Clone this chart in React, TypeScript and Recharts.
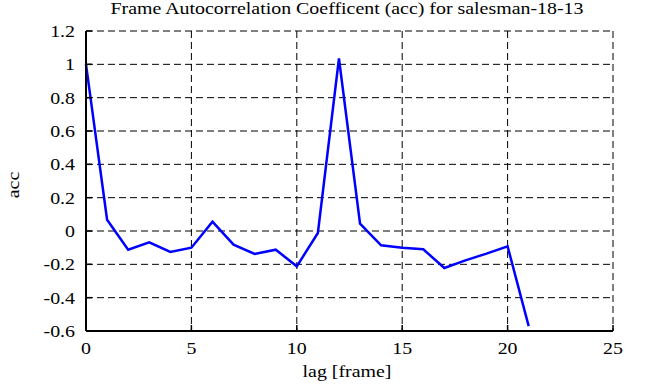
import { LineChart, Line, XAxis, YAxis, CartesianGrid } from "recharts";

const lags = [0, 1, 2, 3, 4, 5, 6, 7, 8, 9, 10, 11, 12, 13, 14, 15, 16, 17, 18, 19, 20, 21];
const acc = [
    1.0, 0.068, -0.112, -0.068, -0.126, -0.1, 0.056, -0.082, -0.138, -0.112, -0.212,
    -0.012, 1.035, 0.044, -0.086, -0.1, -0.11, -0.222, -0.176, -0.136, -0.092, -0.571,
];
const xTicks = [0, 5, 10, 15, 20, 25];
const yTicks = [-0.6, -0.4, -0.2, 0, 0.2, 0.4, 0.6, 0.8, 1, 1.2];

const data = lags.map((lag, i) => ({ lag, acc: acc[i] }));

const font = "Liberation Serif, Times New Roman, serif";
const stretch = 1.17;

const XTick = (props: any) => {
    const { x, y, payload } = props;
    return (
        <text
            transform={`translate(${x},${y}) scale(${stretch},1)`}
            textAnchor="middle" dy="0.71em" fontFamily={font} fontSize={17} fill="#000"
        >
            {payload.value}
        </text>
    );
};

const YTick = (props: any) => {
    const { x, y, payload } = props;
    return (
        <text
            transform={`translate(${x},${y}) scale(${stretch},1)`}
            textAnchor="end" dy="0.35em" fontFamily={font} fontSize={17} fill="#000"
        >
            {String(Math.round(payload.value * 10) / 10)}
        </text>
    );
};

const textStyle = { fontFamily: font, fontSize: 17, lineHeight: "22px", color: "#000" };

export default function App() {
    return (
        <div style={{ position: "absolute", left: 0, top: 0, width: 646, height: 387, background: "#fff" }}>
            {/* Title */}
            <div
                style={{
                    ...textStyle, position: "absolute", top: -2, left: 0, width: 694, textAlign: "center",
                    transform: `scaleX(${stretch})`, transformOrigin: "347px 0", whiteSpace: "nowrap",
                }}
            >
                Frame Autocorrelation Coefficent (acc) for salesman-18-13
            </div>

            {/* y label */}
            <div
                style={{
                    ...textStyle, position: "absolute", left: 14, top: 185,
                    transform: `translate(-50%, -50%) rotate(-90deg) scaleX(${stretch})`,
                }}
            >
                acc
            </div>

            {/* x label */}
            <div
                style={{
                    ...textStyle, position: "absolute", top: 361, left: 83, width: 528, textAlign: "center",
                    transform: `scaleX(${stretch})`,
                }}
            >
                lag [frame]
            </div>

            <LineChart width={646} height={387} data={data} margin={{ top: 31, right: 33, bottom: 26, left: 0 }}>
                <CartesianGrid stroke="#000" strokeDasharray="7 4" strokeWidth={1} />
                <XAxis
                    dataKey="lag" type="number" domain={[0, 25]} ticks={xTicks} height={30}
                    tick={<XTick />} tickSize={-6} tickMargin={17}
                    tickLine={{ stroke: "#000", strokeWidth: 1.5 }}
                    axisLine={{ stroke: "#000", strokeWidth: 2 }}
                />
                <XAxis
                    xAxisId="top" orientation="top" dataKey="lag" type="number" domain={[0, 25]}
                    ticks={xTicks} tick={false} tickSize={-6} height={0}
                    tickLine={{ stroke: "#000", strokeWidth: 1.5 }}
                    axisLine={{ stroke: "#000", strokeWidth: 2 }}
                />
                <YAxis
                    type="number" domain={[-0.6, 1.2]} ticks={yTicks} width={86}
                    tick={<YTick />} tickSize={-6} tickMargin={17}
                    tickLine={{ stroke: "#000", strokeWidth: 1.5 }}
                    axisLine={{ stroke: "#000", strokeWidth: 2 }}
                />
                <YAxis
                    yAxisId="right" orientation="right" type="number" domain={[-0.6, 1.2]}
                    ticks={yTicks} tick={false} tickSize={-6} width={0}
                    tickLine={{ stroke: "#000", strokeWidth: 1.5 }}
                    axisLine={{ stroke: "#000", strokeWidth: 2 }}
                />
                <Line
                    dataKey="acc" type="linear" stroke="#0000ff" strokeWidth={2.5}
                    dot={false} isAnimationActive={false}
                />
            </LineChart>
        </div>
    );
}
